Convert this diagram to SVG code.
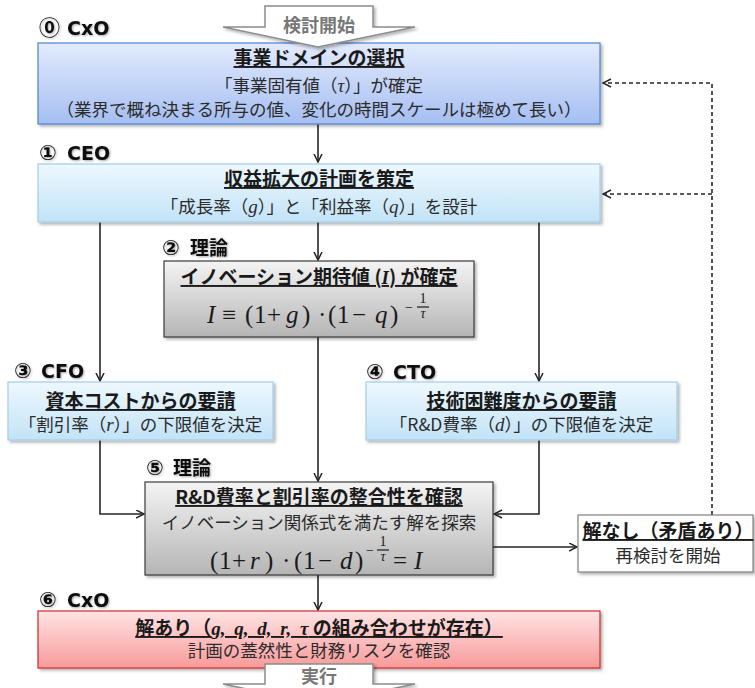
<svg xmlns="http://www.w3.org/2000/svg" width="755" height="688" viewBox="0 0 755 688">
<style>
.jp{font-family:"Noto Sans CJK JP","Noto Sans",sans-serif}
.t{font-size:19px;font-weight:bold;fill:#1a1a1a;text-decoration:underline}
.b{font-size:17.5px;fill:#2b2b2b}
.m{font-family:"Liberation Serif","DejaVu Serif",serif;font-size:19px}
.i{font-style:italic}
.f{font-family:"Liberation Serif","DejaVu Serif",serif;font-size:25px;fill:#1a1a1a}
.e{font-family:"Liberation Serif","DejaVu Serif",serif;font-size:14px;fill:#1a1a1a}
.lab{font-family:"DejaVu Sans","Noto Sans CJK JP",sans-serif;font-weight:bold;font-size:19px;fill:#111;filter:url(#tsh)}
.cd{font-size:21px}
.call{fill:#fff;stroke:#8c8c8c;stroke-width:1.5;filter:url(#sh)}
.ct{font-family:"Noto Sans CJK JP",sans-serif;font-weight:bold;font-size:18px;fill:#777}
.con{fill:none;stroke:#262626;stroke-width:1.6}
.dash{fill:none;stroke:#262626;stroke-width:1.6;stroke-dasharray:4,3}
</style>
<defs>
<linearGradient id="gBlue" x1="0" y1="0" x2="0" y2="1"><stop offset="0" stop-color="#e3ebfd"/><stop offset="1" stop-color="#a5bef2"/></linearGradient>
<linearGradient id="gCyan" x1="0" y1="0" x2="0" y2="1"><stop offset="0" stop-color="#eef8fe"/><stop offset="1" stop-color="#c2e3f7"/></linearGradient>
<linearGradient id="gGray" x1="0" y1="0" x2="0" y2="1"><stop offset="0" stop-color="#f4f4f4"/><stop offset="1" stop-color="#b5b5b5"/></linearGradient>
<linearGradient id="gRed" x1="0" y1="0" x2="0" y2="1"><stop offset="0" stop-color="#ffe4e4"/><stop offset="1" stop-color="#f89a9a"/></linearGradient>
<filter id="sh" x="-5%" y="-10%" width="115%" height="140%"><feDropShadow dx="2" dy="2" stdDeviation="1.5" flood-color="#000" flood-opacity="0.3"/></filter>
<filter id="tsh" x="-10%" y="-30%" width="130%" height="170%"><feDropShadow dx="1" dy="1" stdDeviation="1" flood-color="#000" flood-opacity="0.35"/></filter>
<marker id="arr" markerWidth="10" markerHeight="10" refX="8.5" refY="4.5" orient="auto" markerUnits="userSpaceOnUse"><path d="M0.5,0.5 L8.5,4.5 L0.5,8.5" fill="none" stroke="#262626" stroke-width="1.5"/></marker>
</defs>

<g id="connectors">
<path class="con" d="M318,124 V162" marker-end="url(#arr)"/>
<path class="con" d="M318,222 V260" marker-end="url(#arr)"/>
<path class="con" d="M100,222 V381" marker-end="url(#arr)"/>
<path class="con" d="M539,222 V381" marker-end="url(#arr)"/>
<path class="con" d="M318,337 V481" marker-end="url(#arr)"/>
<path class="con" d="M100,440 V514 H144" marker-end="url(#arr)"/>
<path class="con" d="M539,440 V514 H494" marker-end="url(#arr)"/>
<path class="con" d="M493,547 H577" marker-end="url(#arr)"/>
<path class="con" d="M318,575 V610" marker-end="url(#arr)"/>
<path class="dash" d="M712,515 V83 H603" marker-end="url(#arr)"/>
<path class="dash" d="M712,194 H603" marker-end="url(#arr)"/>
</g>

<g id="node0">
<text class="lab" x="39" y="35"><tspan class="cd">⓪</tspan><tspan x="67">CxO</tspan></text>
<rect x="38" y="43" width="562" height="81" fill="url(#gBlue)" stroke="#4a84d4" stroke-width="1.2" filter="url(#sh)"/>
<text class="jp t" x="319" y="65" text-anchor="middle">事業ドメインの選択</text>
<text class="jp b" x="319" y="92" text-anchor="middle">「事業固有値（<tspan class="m i">τ</tspan>）」が確定</text>
<text class="jp b" x="319" y="116" text-anchor="middle">（業界で概ね決まる所与の値、変化の時間スケールは極めて長い）</text>
</g>

<g id="start">
<polygon class="call" points="265,6 373,6 373,27 415,27 318,47 223,27 265,27"/>
<text class="ct" x="319" y="32" text-anchor="middle">検討開始</text>
</g>

<g id="node1">
<text class="lab" x="39" y="160"><tspan class="cd">①</tspan><tspan x="67">CEO</tspan></text>
<rect x="38" y="164" width="562" height="58" fill="url(#gCyan)" stroke="#a4cde9" stroke-width="1.2" filter="url(#sh)"/>
<text class="jp t" x="319" y="186" text-anchor="middle">収益拡大の計画を策定</text>
<text class="jp b" x="319" y="213" text-anchor="middle">「成長率（<tspan class="m i">g</tspan>）」と「利益率（<tspan class="m i">q</tspan>）」を設計</text>
</g>

<g id="node2">
<text class="lab" x="162" y="255"><tspan class="cd">②</tspan><tspan x="190">理論</tspan></text>
<rect x="164" y="261" width="310" height="76" fill="url(#gGray)" stroke="#3a3a3a" stroke-width="1.2" filter="url(#sh)"/>
<text class="jp t" x="319" y="284" text-anchor="middle">イノベーション期待値 (<tspan class="m i">I</tspan>) が確定</text>
<text class="f" y="323"><tspan class="i" x="207">I</tspan><tspan x="222">≡</tspan><tspan x="245">(</tspan><tspan x="254">1</tspan><tspan x="267">+</tspan><tspan class="i" x="286">g</tspan><tspan x="302">)</tspan><tspan x="318">·</tspan><tspan x="328">(</tspan><tspan x="337">1</tspan><tspan x="352">−</tspan><tspan class="i" x="375">q</tspan><tspan x="390">)</tspan></text>
<text class="e" x="405" y="312" font-size="17px">−</text>
<line x1="417" y1="307" x2="429" y2="307" stroke="#1a1a1a" stroke-width="1.2"/>
<text class="e" x="423" y="303" text-anchor="middle">1</text>
<text class="e i" x="423" y="318" text-anchor="middle">τ</text>
</g>

<g id="node3">
<text class="lab" x="14" y="378"><tspan class="cd">③</tspan><tspan x="41">CFO</tspan></text>
<rect x="8" y="382" width="265" height="58" fill="url(#gCyan)" stroke="#a4cde9" stroke-width="1.2" filter="url(#sh)"/>
<text class="jp t" x="140.5" y="408" text-anchor="middle">資本コストからの要請</text>
<text class="jp b" x="140.5" y="431" text-anchor="middle">「割引率（<tspan class="m i">r</tspan>）」の下限値を決定</text>
</g>

<g id="node4">
<text class="lab" x="366" y="379"><tspan class="cd">④</tspan><tspan x="393">CTO</tspan></text>
<rect x="366" y="382" width="311" height="58" fill="url(#gCyan)" stroke="#a4cde9" stroke-width="1.2" filter="url(#sh)"/>
<text class="jp t" x="521.5" y="408" text-anchor="middle">技術困難度からの要請</text>
<text class="jp b" x="521.5" y="431" text-anchor="middle">「R&amp;D費率（<tspan class="m i">d</tspan>）」の下限値を決定</text>
</g>

<g id="node5">
<text class="lab" x="146" y="475"><tspan class="cd">⑤</tspan><tspan x="173">理論</tspan></text>
<rect x="145" y="482" width="348" height="93" fill="url(#gGray)" stroke="#3a3a3a" stroke-width="1.2" filter="url(#sh)"/>
<text class="jp t" x="319" y="504" text-anchor="middle">R&amp;D費率と割引率の整合性を確認</text>
<text class="jp b" x="319" y="529" text-anchor="middle">イノベーション関係式を満たす解を探索</text>
<text class="f" y="569"><tspan x="210">(</tspan><tspan x="219">1</tspan><tspan x="232">+</tspan><tspan class="i" x="250">r</tspan><tspan x="265">)</tspan><tspan x="282">·</tspan><tspan x="294">(</tspan><tspan x="303">1</tspan><tspan x="318">−</tspan><tspan class="i" x="340">d</tspan><tspan x="355">)</tspan><tspan x="393">=</tspan><tspan class="i" x="414">I</tspan></text>
<text class="e" x="366" y="555" font-size="17px">−</text>
<line x1="377" y1="550" x2="389" y2="550" stroke="#1a1a1a" stroke-width="1.2"/>
<text class="e" x="383" y="546" text-anchor="middle">1</text>
<text class="e i" x="383" y="561" text-anchor="middle">τ</text>
</g>

<g id="nosolution">
<rect x="578" y="515" width="175" height="57" fill="#fff" stroke="#808080" stroke-width="1.2" filter="url(#sh)"/>
<text class="jp t" x="668" y="538" text-anchor="middle">解なし（矛盾あり）</text>
<text class="jp b" x="668" y="562" text-anchor="middle">再検討を開始</text>
</g>

<g id="node6">
<text class="lab" x="39" y="607"><tspan class="cd">⑥</tspan><tspan x="67">CxO</tspan></text>
<rect x="38" y="611" width="562" height="57" fill="url(#gRed)" stroke="#d42a2a" stroke-width="1.2" filter="url(#sh)"/>
<text class="jp t" x="319" y="635" text-anchor="middle">解あり（<tspan class="m i" font-size="21px" word-spacing="4px">g, q, d, r, τ</tspan> の組み合わせが存在）</text>
<text class="jp b" x="319" y="657" text-anchor="middle">計画の蓋然性と財務リスクを確認</text>
</g>

<g id="execute">
<polygon class="call" points="265,664 373,664 373,684 415,684 318,704 223,684 265,684"/>
<text class="ct" x="319" y="683" text-anchor="middle">実行</text>
</g>
</svg>
